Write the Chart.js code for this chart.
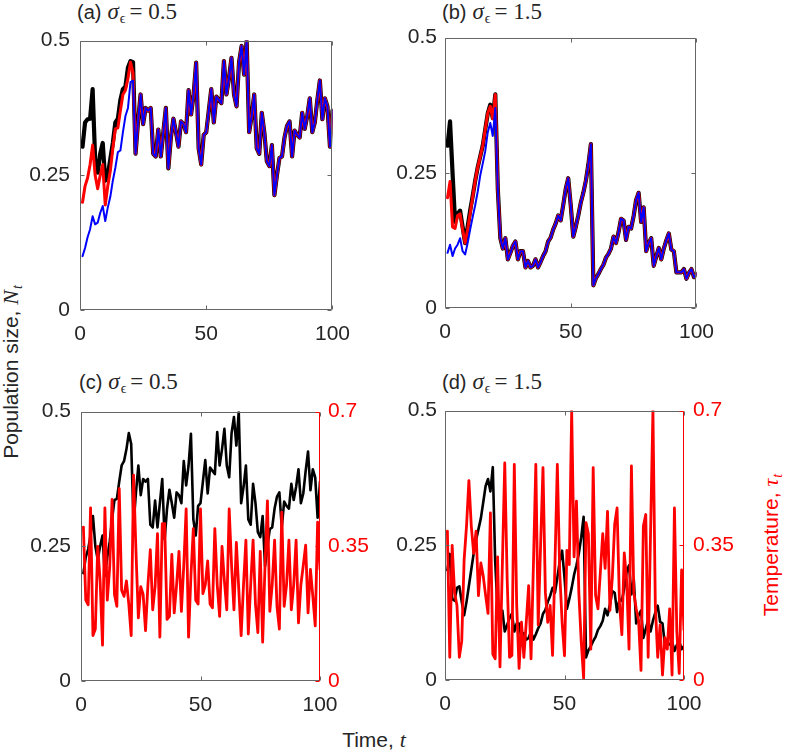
<!DOCTYPE html>
<html><head><meta charset="utf-8">
<script src="https://cdn.jsdelivr.net/npm/chart.js"></script>
<style>
html,body{margin:0;padding:0;background:#fff;}
#wrap{position:relative;width:786px;height:753px;overflow:hidden;font-family:'Liberation Sans',Arial,sans-serif;color:#262626;}
canvas{position:absolute;}
.ttl{position:absolute;white-space:nowrap;font-size:20px;line-height:24px;color:#262626;}
.m{font-family:'Liberation Serif','DejaVu Serif',serif;font-size:23px;margin-left:6px;}
.m2{font-family:'Liberation Serif','DejaVu Serif',serif;font-size:22px;}
.sb{font-size:14px;position:relative;top:4px;margin-left:1px;}
.eq{margin-left:4px;}
.lab{position:absolute;white-space:nowrap;font-size:21px;line-height:26px;color:#262626;transform:translate(-50%,-50%);}
.rot{transform:translate(-50%,-50%) rotate(-90deg);}
</style></head>
<body>
<div id="wrap">
  <div class="ttl" style="left:77px;top:0px">(a)<span class="m"><i>σ</i><span class="sb">ϵ</span><span class="eq">= 0.5</span></span></div>
  <div class="ttl" style="left:442px;top:0px">(b)<span class="m"><i>σ</i><span class="sb">ϵ</span><span class="eq">= 1.5</span></span></div>
  <div class="ttl" style="left:79px;top:370px">(c)<span class="m"><i>σ</i><span class="sb">ϵ</span><span class="eq">= 0.5</span></span></div>
  <div class="ttl" style="left:442px;top:370px">(d)<span class="m"><i>σ</i><span class="sb">ϵ</span><span class="eq">= 1.5</span></span></div>
  <div class="lab rot" style="left:12px;top:372px">Population size, <span class="m2"><i>N</i><span class="sb"><i>t</i></span></span></div>
  <div class="lab" style="left:374px;top:740px">Time, <i class="m2">t</i></div>
  <div class="lab rot" style="left:772px;top:545px;color:#ff0000">Temperature, <span class="m2"><i>τ</i><span class="sb"><i>t</i></span></span></div>
</div>
<script>
// ---- data ----
const time = Array.from({length:100}, (_, i) => i + 1);
const xTickVals = [0, 50, 100];
const xTickLabels = ['0', '50', '100'];
const nTickVals = [0, 0.25, 0.5];
const nTickLabels = ['0', '0.25', '0.5'];
const tTickVals = [0, 0.35, 0.7];
const tTickLabels = ['0', '0.35', '0.7'];

// panel (a), sigma = 0.5 : three starting values, t = 1..21, then shared path t = 22..100
const aBlackStart = [0.303,0.348,0.354,0.355,0.41,0.28,0.255,0.29,0.31,0.24,0.25,0.28,0.31,0.348,0.355,0.39,0.41,0.415,0.45,0.462,0.46];
const aRedStart   = [0.20,0.23,0.245,0.27,0.306,0.25,0.225,0.25,0.27,0.195,0.23,0.258,0.30,0.336,0.338,0.37,0.40,0.408,0.43,0.46,0.44];
const aBlueStart  = [0.10,0.115,0.135,0.15,0.174,0.159,0.162,0.18,0.193,0.165,0.19,0.21,0.24,0.264,0.293,0.296,0.33,0.36,0.375,0.423,0.426];
const aShared = [0.29,0.35,0.40,0.345,0.375,0.37,0.375,0.29,0.285,0.335,
  0.285,0.33,0.375,0.263,0.32,0.355,0.33,0.303,0.35,0.345,
  0.33,0.408,0.363,0.40,0.459,0.30,0.27,0.325,0.33,0.37,
  0.41,0.348,0.396,0.39,0.384,0.462,0.40,0.43,0.468,0.40,
  0.378,0.46,0.49,0.437,0.50,0.33,0.36,0.40,0.30,0.29,
  0.366,0.33,0.276,0.267,0.306,0.213,0.25,0.282,0.285,0.32,
  0.342,0.35,0.285,0.333,0.325,0.32,0.366,0.336,0.36,0.393,
  0.33,0.348,0.39,0.426,0.354,0.393,0.378,0.303,0.37];

// panel (b), sigma = 1.5 : t = 1..20, then shared path t = 21..100
const bBlackStart = [0.30,0.345,0.25,0.159,0.174,0.18,0.15,0.12,0.15,0.18,0.207,0.235,0.26,0.28,0.30,0.33,0.36,0.376,0.351,0.395];
const bRedStart   = [0.204,0.234,0.15,0.147,0.171,0.174,0.145,0.12,0.145,0.175,0.205,0.235,0.26,0.28,0.30,0.33,0.36,0.373,0.35,0.395];
const bBlueStart  = [0.102,0.117,0.096,0.11,0.117,0.129,0.105,0.099,0.12,0.145,0.168,0.19,0.215,0.245,0.267,0.29,0.325,0.342,0.318,0.37];
const bShared = [0.22,0.129,0.11,0.129,0.09,0.102,0.115,0.123,0.09,0.105,
  0.105,0.075,0.087,0.075,0.078,0.09,0.075,0.085,0.096,0.105,
  0.123,0.13,0.145,0.156,0.171,0.162,0.19,0.22,0.24,0.19,
  0.132,0.15,0.171,0.195,0.213,0.235,0.265,0.303,0.042,0.055,
  0.063,0.072,0.08,0.093,0.10,0.11,0.132,0.12,0.14,0.165,
  0.162,0.126,0.15,0.147,0.17,0.20,0.213,0.159,0.186,0.105,
  0.12,0.129,0.078,0.095,0.111,0.09,0.11,0.125,0.138,0.108,
  0.105,0.066,0.066,0.066,0.072,0.054,0.065,0.072,0.057,0.063];

// temperature series, panels (c) and (d)
const cTemp = [0.40,0.21,0.198,0.45,0.118,0.135,0.35,0.26,0.093,0.45,
  0.21,0.295,0.472,0.225,0.194,0.50,0.236,0.22,0.26,0.20,
  0.118,0.535,0.337,0.164,0.245,0.225,0.131,0.25,0.341,0.185,
  0.245,0.383,0.114,0.409,0.409,0.16,0.168,0.329,0.177,0.25,
  0.337,0.181,0.30,0.447,0.114,0.274,0.396,0.21,0.20,0.447,
  0.227,0.25,0.312,0.20,0.19,0.396,0.25,0.168,0.35,0.26,
  0.185,0.447,0.30,0.185,0.36,0.24,0.118,0.25,0.366,0.122,
  0.25,0.366,0.20,0.126,0.337,0.101,0.30,0.468,0.181,0.25,
  0.366,0.194,0.135,0.439,0.194,0.25,0.366,0.185,0.25,0.366,
  0.151,0.25,0.30,0.353,0.177,0.29,0.22,0.143,0.413,0.29];
const dTemp = [0.387,0.059,0.35,0.227,0.194,0.059,0.101,0.312,0.40,0.518,
  0.40,0.329,0.387,0.219,0.304,0.27,0.22,0.173,0.434,0.067,
  0.055,0.32,0.034,0.30,0.564,0.265,0.059,0.064,0.56,0.194,
  0.03,0.15,0.059,0.15,0.245,0.055,0.30,0.56,0.143,0.35,
  0.552,0.227,0.15,0.194,0.064,0.30,0.56,0.28,0.15,0.063,
  0.337,0.30,0.70,0.32,0.465,0.227,0.10,0.004,0.409,0.38,
  0.08,0.552,0.22,0.185,0.28,0.38,0.29,0.438,0.181,0.265,
  0.405,0.447,0.20,0.118,0.33,0.26,0.08,0.556,0.227,0.185,
  0.155,0.025,0.40,0.43,0.059,0.38,0.70,0.194,0.059,0.143,
  0.013,0.11,0.08,0.185,0.013,0.447,0.126,0.017,0.286,0.13];

const aBlack = aBlackStart.concat(aShared);
const aRed   = aRedStart.concat(aShared);
const aBlue  = aBlueStart.concat(aShared);
const bBlack = bBlackStart.concat(bShared);
const bRed   = bRedStart.concat(bShared);
const bBlue  = bBlueStart.concat(bShared);

// ---- drawing ----
const TXT = '#262626';
const FONT = {family:"'Liberation Sans', Arial, sans-serif", size:21};
function pts(arr){ return arr.map((v,i)=>({x:time[i], y:v})); }

const framePlugin = {
  id:'frame',
  afterDraw(chart, args, o){
    const {ctx, chartArea:a, scales:s} = chart;
    const L=Math.round(a.left)+0.5, R=Math.round(a.right)-0.5, T=Math.round(a.top)+0.5, B=Math.round(a.bottom)-0.5;
    const tl = 4;
    ctx.save();
    ctx.lineWidth = 1;
    ctx.strokeStyle = '#666';
    ctx.beginPath();
    ctx.moveTo(R,T); ctx.lineTo(L,T); ctx.lineTo(L,B); ctx.lineTo(R,B);
    if(!o.rightColor) ctx.lineTo(R,T);
    xTickVals.forEach(v=>{const x=Math.round(s.x.getPixelForValue(v))+0.5; ctx.moveTo(x,B); ctx.lineTo(x,B-tl); ctx.moveTo(x,T); ctx.lineTo(x,T+tl);});
    nTickVals.forEach(v=>{const y=Math.round(s.y.getPixelForValue(v))+0.5; ctx.moveTo(L,y); ctx.lineTo(L+tl,y); if(!o.rightColor){ctx.moveTo(R,y); ctx.lineTo(R-tl,y);} });
    ctx.stroke();
    if(o.rightColor){
      ctx.strokeStyle = o.rightColor;
      ctx.beginPath();
      ctx.moveTo(R,T); ctx.lineTo(R,B+0.5);
      tTickVals.forEach(v=>{const y=Math.round(s.y2.getPixelForValue(v))+0.5; ctx.moveTo(R,y); ctx.lineTo(R-tl,y);});
      ctx.stroke();
    }
    ctx.restore();
  }
};

function makePanel(box, sets, opt){
  const padT = 14, axH = 40;
  const axW = opt.axW, right = opt.axWR || opt.padR;
  const W = axW + (box.r - box.l) + right;
  const H = padT + (box.b - box.t) + axH;
  const cv = document.createElement('canvas');
  cv.width = W; cv.height = H;
  cv.style.left = (box.l - axW) + 'px'; cv.style.top = (box.t - padT) + 'px';
  cv.style.width = W + 'px'; cv.style.height = H + 'px';
  document.getElementById('wrap').appendChild(cv);
  const scales = {
    x: {type:'linear', min:0, max:100,
        afterBuildTicks: sc => { sc.ticks = xTickVals.map(v=>({value:v})); },
        ticks:{font:FONT, color:TXT, padding:12, maxRotation:0, autoSkip:false,
               callback: v => xTickLabels[xTickVals.indexOf(v)]},
        grid:{display:false, drawTicks:false}, border:{display:false},
        afterFit: sc => { sc.height = axH; }},
    y: {type:'linear', position:'left', min:0, max:0.5,
        afterBuildTicks: sc => { sc.ticks = nTickVals.map(v=>({value:v})); },
        ticks:{font:FONT, color:TXT, padding:opt.yPad, autoSkip:false,
               callback: v => nTickLabels[nTickVals.indexOf(v)]},
        grid:{display:false, drawTicks:false}, border:{display:false},
        afterFit: sc => { sc.width = axW; }}
  };
  if(opt.axWR){
    scales.y2 = {type:'linear', position:'right', min:0, max:0.7,
        afterBuildTicks: sc => { sc.ticks = tTickVals.map(v=>({value:v})); },
        ticks:{font:FONT, color:'#ff0000', padding:opt.y2Pad, autoSkip:false,
               callback: v => tTickLabels[tTickVals.indexOf(v)]},
        grid:{display:false, drawTicks:false}, border:{display:false},
        afterFit: sc => { sc.width = opt.axWR; }};
  }
  new Chart(cv.getContext('2d'), {
    type:'line',
    data:{datasets: sets.map(d=>({
      data: pts(d.data), borderColor:d.color, borderWidth:d.width,
      yAxisID: d.axis || 'y', pointRadius:0, tension:0, fill:false, clip:0,
      borderJoinStyle:'round', borderCapStyle:'round'}))},
    options:{
      responsive:false, animation:false, devicePixelRatio:1,
      layout:{padding:{top:padT, right: opt.axWR ? 0 : opt.padR, left:0, bottom:0}},
      plugins:{legend:{display:false}, tooltip:{enabled:false}, frame:{rightColor: opt.axWR ? '#ff0000' : null}},
      scales
    },
    plugins:[framePlugin]
  });
}

// first dataset is drawn on top
makePanel({l:80, r:340, t:32, b:310}, [
  {data:aBlue, color:'#0000ff', width:2},
  {data:aRed, color:'#ff0000', width:3},
  {data:aBlack, color:'#000000', width:4.2}
], {axW:80, padR:22, yPad:10});

makePanel({l:445, r:704, t:31, b:308}, [
  {data:bBlue, color:'#0000ff', width:2},
  {data:bRed, color:'#ff0000', width:3},
  {data:bBlack, color:'#000000', width:4.2}
], {axW:85, padR:22, yPad:8});

makePanel({l:81, r:320, t:403, b:681}, [
  {data:cTemp, color:'#ff0000', width:2.8, axis:'y2'},
  {data:aRed, color:'#000000', width:2.6}
], {axW:81, axWR:60, yPad:10, y2Pad:8});

makePanel({l:445, r:684, t:403, b:680}, [
  {data:dTemp, color:'#ff0000', width:2.8, axis:'y2'},
  {data:bRed, color:'#000000', width:2.6}
], {axW:85, axWR:60, yPad:8, y2Pad:9});
</script>
</body></html>
